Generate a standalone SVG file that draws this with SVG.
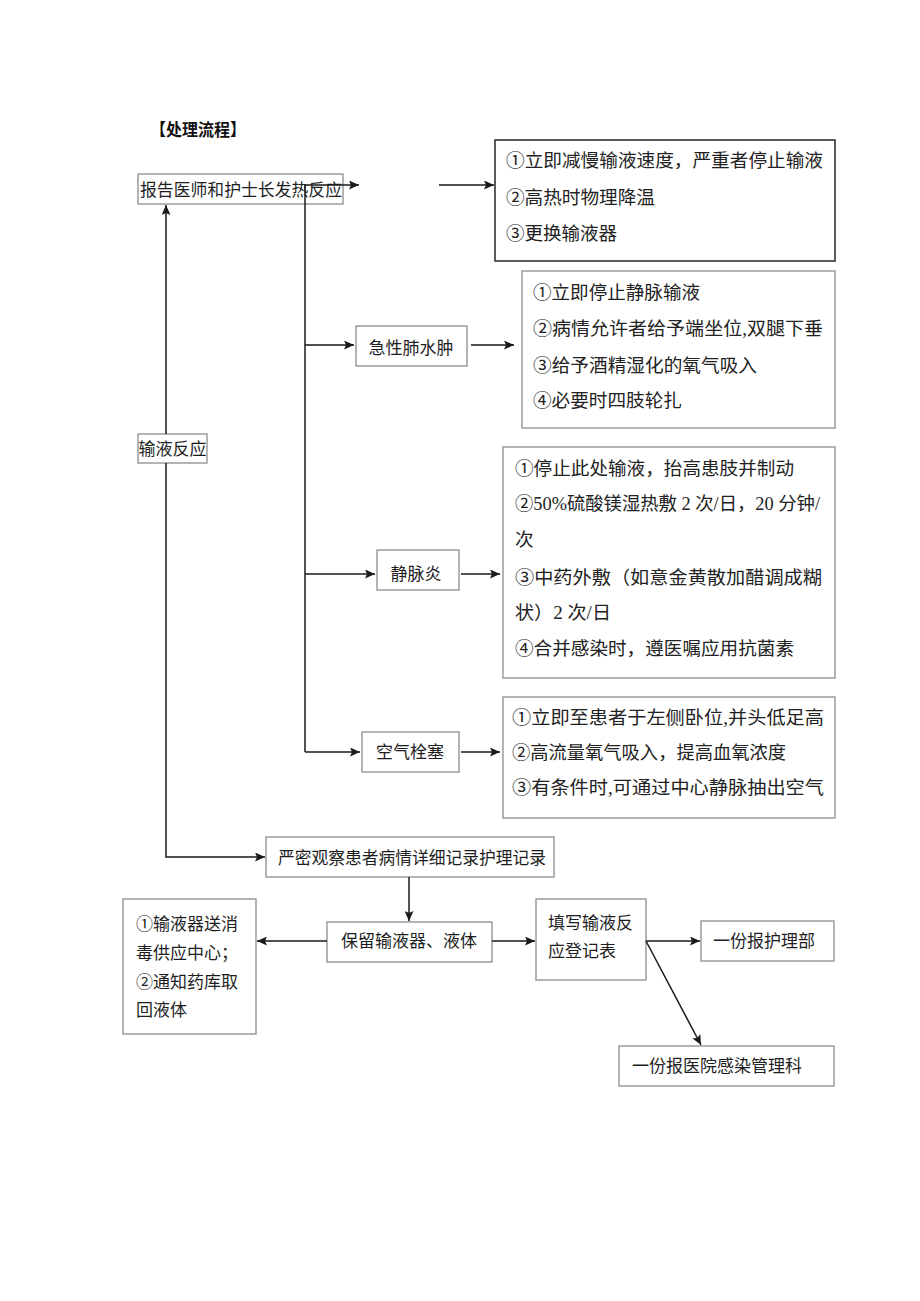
<svg xmlns="http://www.w3.org/2000/svg" width="920" height="1301" viewBox="0 0 920 1301">
<defs>
<marker id="ah" markerUnits="userSpaceOnUse" markerWidth="10" markerHeight="9" refX="10" refY="4.5" orient="auto">
<path d="M0,0 L10,4.5 L0,9 L2,4.5 z" fill="#1a1a1a"/>
</marker>
<style>
.box{fill:#fff;stroke:#8c8c8c;stroke-width:1.3}
.dbox{fill:#fff;stroke:#333;stroke-width:1.6}
.lbl{font-family:"Noto Sans CJK SC","Noto Sans",sans-serif;font-size:17px;fill:#1e1e1e}
.srf{font-family:"Liberation Serif","Noto Sans CJK SC",serif;font-size:18.5px;fill:#222}
.ttl{font-family:"Noto Sans CJK SC",sans-serif;font-size:17px;font-weight:bold;fill:#111}
.c{fill:none;stroke:#1a1a1a;stroke-width:1.5}
.ca{fill:none;stroke:#1a1a1a;stroke-width:1.5;marker-end:url(#ah)}
</style>
</defs>
<rect width="920" height="1301" fill="#fff"/>
<text class="ttl" x="150" y="136" textLength="96" lengthAdjust="spacingAndGlyphs">【处理流程】</text>

<g id="n-report"><rect class="box" x="138" y="174" width="205" height="30"/><text class="lbl" x="140" y="196" textLength="202" lengthAdjust="spacingAndGlyphs">报告医师和护士长发热反应</text></g>
<g id="n-fever"><rect class="dbox" x="495" y="140" width="340" height="121"/>
<text class="srf" x="506" y="167" textLength="317" lengthAdjust="spacingAndGlyphs">①立即减慢输液速度，严重者停止输液</text>
<text class="srf" x="506" y="204" textLength="149" lengthAdjust="spacingAndGlyphs">②高热时物理降温</text>
<text class="srf" x="506" y="240" textLength="111" lengthAdjust="spacingAndGlyphs">③更换输液器</text></g>
<g id="n-edema"><rect class="box" x="356" y="326" width="111" height="40"/><text class="lbl" x="411" y="354" text-anchor="middle">急性肺水肿</text></g>
<g id="n-edema-steps"><rect class="box" x="522" y="271" width="313" height="157"/>
<text class="srf" x="533" y="299" textLength="167" lengthAdjust="spacingAndGlyphs">①立即停止静脉输液</text>
<text class="srf" x="533" y="335" textLength="290" lengthAdjust="spacingAndGlyphs">②病情允许者给予端坐位,双腿下垂</text>
<text class="srf" x="533" y="372" textLength="224" lengthAdjust="spacingAndGlyphs">③给予酒精湿化的氧气吸入</text>
<text class="srf" x="533" y="407" textLength="149" lengthAdjust="spacingAndGlyphs">④必要时四肢轮扎</text></g>
<g id="n-reaction"><rect class="box" x="138" y="434" width="69" height="29"/><text class="lbl" x="172.5" y="455" text-anchor="middle">输液反应</text></g>
<g id="n-phleb"><rect class="box" x="377" y="550" width="82" height="40"/><text class="lbl" x="416" y="580" text-anchor="middle">静脉炎</text></g>
<g id="n-phleb-steps"><rect class="box" x="503" y="447" width="332" height="231"/>
<text class="srf" x="515" y="475" textLength="279" lengthAdjust="spacingAndGlyphs">①停止此处输液，抬高患肢并制动</text>
<text class="srf" x="515" y="510" textLength="305" lengthAdjust="spacingAndGlyphs">②50%硫酸镁湿热敷 2 次/日，20 分钟/</text>
<text class="srf" x="515" y="546">次</text>
<text class="srf" x="515" y="584" textLength="307" lengthAdjust="spacingAndGlyphs">③中药外敷（如意金黄散加醋调成糊</text>
<text class="srf" x="515" y="619" textLength="96" lengthAdjust="spacingAndGlyphs">状）2 次/日</text>
<text class="srf" x="515" y="655" textLength="279" lengthAdjust="spacingAndGlyphs">④合并感染时，遵医嘱应用抗菌素</text></g>
<g id="n-embol"><rect class="box" x="362" y="732" width="97" height="40"/><text class="lbl" x="410" y="758" text-anchor="middle">空气栓塞</text></g>
<g id="n-embol-steps"><rect class="box" x="503" y="697" width="332" height="121"/>
<text class="srf" x="512" y="724" textLength="312" lengthAdjust="spacingAndGlyphs">①立即至患者于左侧卧位,并头低足高</text>
<text class="srf" x="512" y="759" textLength="274" lengthAdjust="spacingAndGlyphs">②高流量氧气吸入，提高血氧浓度</text>
<text class="srf" x="512" y="794" textLength="312" lengthAdjust="spacingAndGlyphs">③有条件时,可通过中心静脉抽出空气</text></g>
<g id="n-observe"><rect class="box" x="266" y="837" width="288" height="40"/><text class="lbl" x="278" y="864" textLength="268" lengthAdjust="spacingAndGlyphs">严密观察患者病情详细记录护理记录</text></g>
<g id="n-keep"><rect class="box" x="327" y="922" width="165" height="40"/><text class="lbl" x="409" y="947" text-anchor="middle">保留输液器、液体</text></g>
<g id="n-send"><rect class="box" x="123" y="899" width="133" height="135"/>
<text class="lbl" x="136" y="930">①输液器送消</text>
<text class="lbl" x="136" y="959">毒供应中心；</text>
<text class="lbl" x="136" y="988">②通知药库取</text>
<text class="lbl" x="136" y="1016">回液体</text></g>
<g id="n-form"><rect class="box" x="536" y="899" width="110" height="81"/>
<text class="lbl" x="548" y="929">填写输液反</text>
<text class="lbl" x="548" y="957">应登记表</text></g>
<g id="n-nursing"><rect class="box" x="701" y="921" width="133" height="40"/><text class="lbl" x="713" y="947">一份报护理部</text></g>
<g id="n-infection"><rect class="box" x="619" y="1046" width="215" height="40"/><text class="lbl" x="632" y="1072">一份报医院感染管理科</text></g>

<g id="connectors">
<line class="ca" x1="305" y1="185" x2="359" y2="185"/>
<line class="ca" x1="439" y1="185" x2="494" y2="185"/>
<line class="c" x1="305" y1="185" x2="305" y2="752"/>
<line class="ca" x1="305" y1="345" x2="354" y2="345"/>
<line class="ca" x1="471" y1="345" x2="514" y2="345"/>
<line class="ca" x1="305" y1="574" x2="375" y2="574"/>
<line class="ca" x1="461" y1="574" x2="500" y2="574"/>
<line class="ca" x1="305" y1="752" x2="360" y2="752"/>
<line class="ca" x1="461" y1="752" x2="500" y2="752"/>
<line class="ca" x1="166" y1="434" x2="166" y2="205"/>
<polyline class="ca" points="166,463 166,857 265,857"/>
<line class="ca" x1="409" y1="877" x2="409" y2="921"/>
<line class="ca" x1="327" y1="941" x2="257" y2="941"/>
<line class="ca" x1="492" y1="941" x2="535" y2="941"/>
<line class="ca" x1="646" y1="941" x2="700" y2="941"/>
<line class="ca" x1="646" y1="941" x2="701" y2="1045"/>
</g>
</svg>
